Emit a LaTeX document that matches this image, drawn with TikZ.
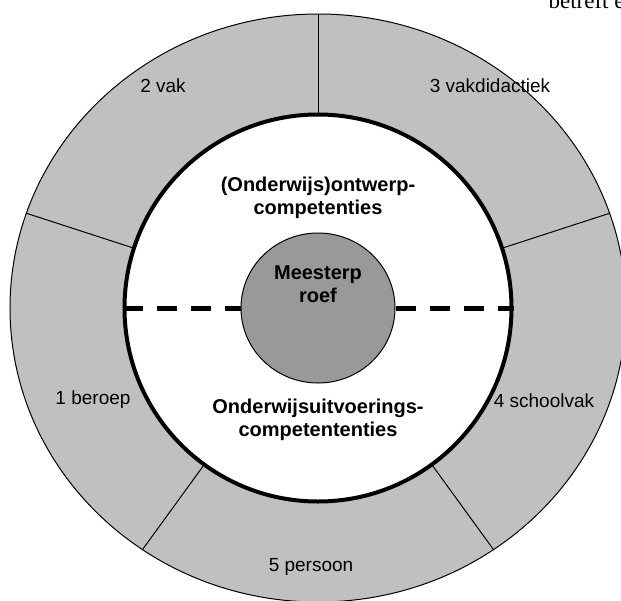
\documentclass[tikz,border=0pt]{standalone}
\usepackage{fontspec}
\setmainfont{Liberation Sans}
\newfontfamily\tekstletter{Liberation Serif}
\usepackage{tikz}
\usetikzlibrary{shapes, positioning}
\definecolor{ringgrijs}{HTML}{C0C0C0}
\definecolor{kerngrijs}{HTML}{999999}
\tikzstyle{ring} = [draw, ellipse, fill=ringgrijs, line width=1pt, minimum width=616pt, minimum height=588pt, inner sep=0pt]
\tikzstyle{kern} = [draw, circle, fill=white, line width=4pt, minimum size=387pt, inner sep=0pt]
\tikzstyle{meester} = [draw, ellipse, fill=kerngrijs, line width=1pt, minimum width=154pt, minimum height=150pt, inner sep=0pt]
\tikzstyle{deel} = [font=\fontsize{19}{23}\selectfont]
\tikzstyle{competentie} = [font=\fontsize{20}{23}\selectfont\bfseries, align=center]
\tikzstyle{scheiding} = [line width=1pt]
\tikzstyle{grens} = [line width=5pt, dash pattern=on 20pt off 14pt]

\begin{document}
\begin{tikzpicture}[x=1pt, y=-1pt]
	\useasboundingbox (0,0) rectangle (621,600);
	\node[ring] (ring) at (318,308) {};
	\node[kern] (kern) at (318,308) {};
	\foreach \hoek in {18,90,162,234,306}
		\draw[scheiding] (kern.\hoek) -- (ring.\hoek);
	\node[meester] (meester) at (318,308) {};
	\draw[grens] (kern.west) -- (meester.west);
	\draw[grens] (meester.east) -- (kern.east);
	% teksten in de ring
	\node[deel] (beroep) at (93,400) {1 beroep};
	\node[deel] (vak) at (163,86) {2 vak};
	\node[deel] (didactiek) at (490,86) {3 vakdidactiek};
	\node[deel] (schoolvak) at (544,401) {4 schoolvak};
	\node[deel] (persoon) at (311,567) {5 persoon};
	% teksten binnen
	\node[competentie] (ontwerp) at (318,198) {(Onderwijs)ontwerp-\\competenties};
	\node[competentie] (meestertekst) at (318,284) {Meesterp\\roef};
	\node[competentie] (uitvoering) at (318,420) {Onderwijsuitvoerings-\\competententies};
	\node[anchor=base west, font=\tekstletter\fontsize{23}{27}\selectfont] (betreft) at (545,8) {betreft e};
\end{tikzpicture}
\end{document}
